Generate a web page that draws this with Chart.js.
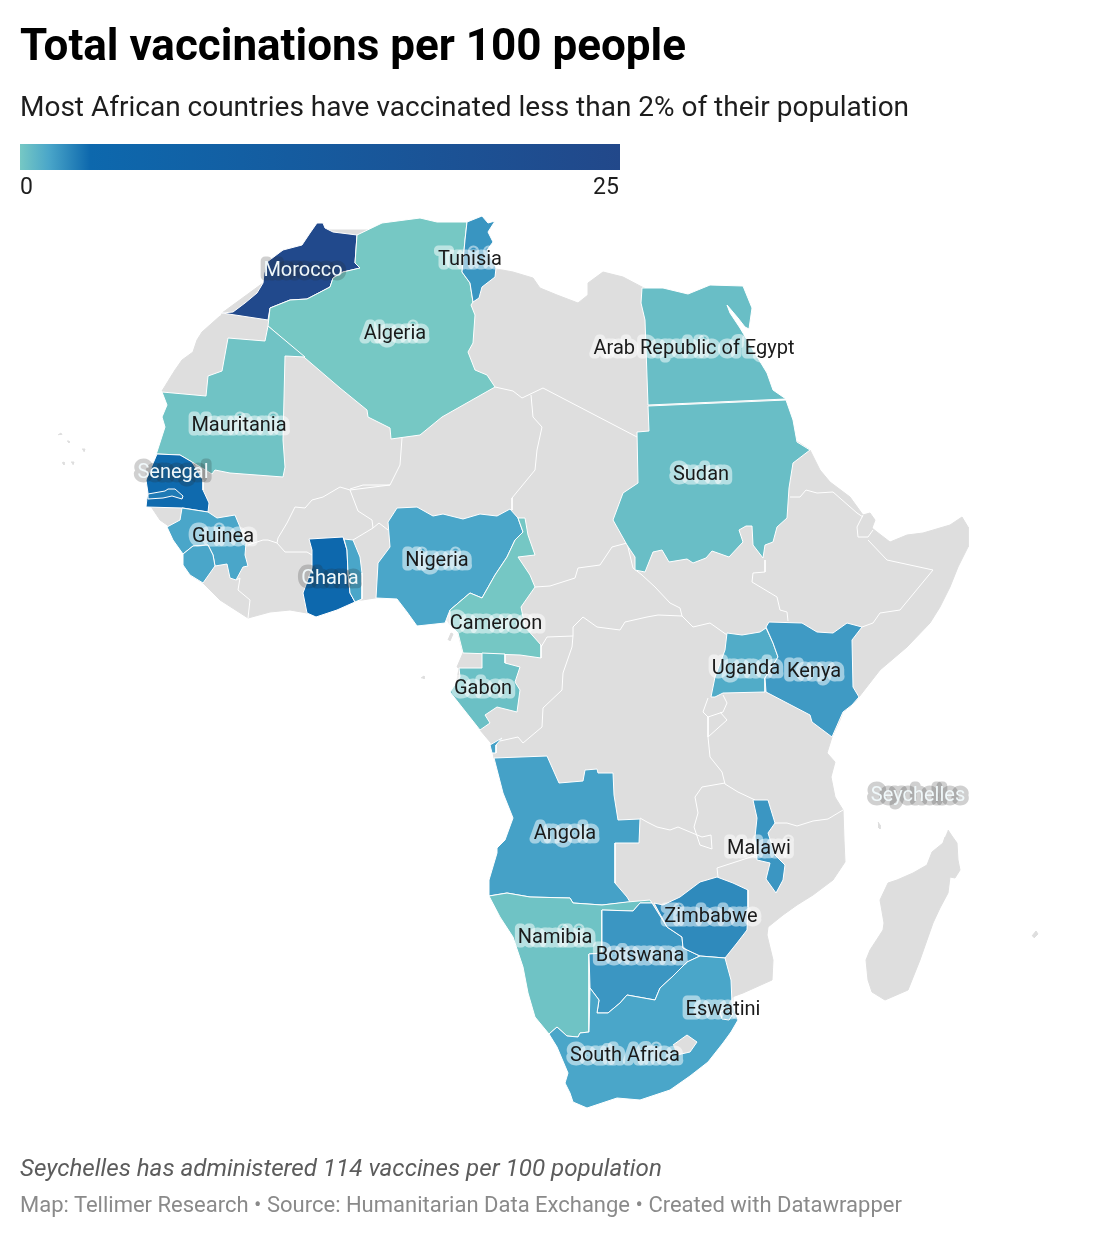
<!DOCTYPE html>
<html>
<head>
<meta charset="utf-8">
<title>Total vaccinations per 100 people</title>
<script src="https://cdn.jsdelivr.net/npm/chart.js@4/dist/chart.umd.min.js"></script>
<style>
  body { margin: 0; background: #fff; font-family: Roboto, sans-serif; }
  #page { position: relative; width: 1096px; height: 1238px; overflow: hidden; }
  #carte { position: absolute; left: 0; top: 0; }
  #page div { position: absolute; white-space: nowrap; }
  #titre { left: 20px; top: 20px; font-size: 44px; line-height: 50px; font-weight: 700; color: #000; }
  #sousTitre { left: 20px; top: 89px; font-size: 28px; line-height: 36px; color: #1d1d1d; }
  #degrade { left: 20px; top: 144px; width: 600px; height: 26px; background: linear-gradient(to right, #76c8c4 0%, #4aa6c9 4.8%, #0d68ad 11.7%, #22488a 100%); }
  #mini, #maxi { top: 173px; font-size: 23px; line-height: 28px; color: #1d1d1d; }
  #mini { left: 20px; }
  #maxi { left: 593px; }
  #note { left: 20px; top: 1153px; font-size: 24.2px; line-height: 30px; font-style: italic; color: #5c5c5c; }
  #source { left: 20px; top: 1190px; font-size: 22px; line-height: 30px; color: #8a8a8a; }
</style>
</head>
<body>
<div id="page">
  <canvas id="carte" width="1096" height="1238"></canvas>
  <div id="titre">Total vaccinations per 100 people</div>
  <div id="sousTitre">Most African countries have vaccinated less than 2% of their population</div>
  <div id="degrade"></div>
  <div id="mini">0</div>
  <div id="maxi">25</div>
  <div id="note">Seychelles has administered 114 vaccines per 100 population</div>
  <div id="source">Map: Tellimer Research • Source: Humanitarian Data Exchange • Created with Datawrapper</div>
</div>
<script>
// Valeurs lues sur la carte (total vaccinations per 100 people, estimees d'apres la couleur)
const pays = ['Morocco', 'Algeria', 'Tunisia', 'Mauritania', 'Arab Republic of Egypt', 'Sudan', 'Senegal', 'Gambia', 'Guinea', 'Sierra Leone', 'Ghana', 'Togo', 'Nigeria', 'Cameroon', 'Gabon', 'Cabinda', 'Uganda', 'Kenya', 'Angola', 'Namibia', 'Botswana', 'Zimbabwe', 'South Africa', 'Eswatini', 'Malawi'];
const valeurs = [24, 0, 1.66, 0.17, 0.36, 0.36, 2.85, 2.4, 1.2, 1.2, 2.9, 1.2, 1.2, 0.02, 0.3, 1.33, 1.0, 1.52, 1.33, 0.19, 1.63, 1.96, 1.2, 1.2, 1.63];

// Contours, en unites de carte
const contours = [
  // Morocco
  [[317,223],[323,223],[325,228],[333,232],[357,235],[355,263],[360,268],[343,272],[333,278],[330,287],[307,299],[290,300],[270,308],[268,320],[222,313],[233,312],[245,303],[257,293],[263,283],[264,273],[267,262],[283,250],[302,245],[310,233]],
  // Algeria
  [[357,235],[382,223],[420,218],[437,222],[467,222],[465,240],[462,272],[470,283],[473,302],[471,305],[475,315],[473,343],[468,352],[475,370],[487,375],[495,387],[442,417],[420,435],[391,439],[390,428],[368,417],[367,410],[340,388],[305,358],[268,326],[270,308],[290,300],[307,299],[330,287],[333,278],[343,272],[360,268],[355,263]],
  // Tunisia
  [[467,222],[482,216],[488,223],[495,221],[488,232],[493,242],[487,250],[496,268],[495,277],[482,287],[479,298],[473,302],[470,283],[462,272],[465,240]],
  // Mauritania
  [[162,392],[206,396],[208,376],[222,371],[228,338],[265,341],[268,326],[305,357],[285,356],[283,440],[285,467],[283,477],[230,473],[215,470],[212,474],[192,462],[180,455],[157,454],[155,458],[165,427],[162,417],[167,405]],
  // Egypt
  [[642,288],[663,288],[688,294],[710,285],[743,286],[752,308],[749,329],[745,327],[738,318],[727,305],[730,313],[740,328],[753,350],[767,373],[773,390],[786,399],[648,405],[645,320],[641,303]],
  // Sudan
  [[648,406],[786,400],[793,420],[797,442],[810,450],[793,463],[789,488],[787,518],[777,527],[773,542],[765,545],[763,558],[753,545],[752,526],[746,526],[739,530],[743,542],[729,557],[712,551],[706,558],[693,563],[687,559],[669,562],[662,550],[653,552],[645,572],[635,570],[635,557],[627,545],[613,520],[623,493],[638,483],[637,432],[649,431]],
  // Senegal
  [[157,454],[180,455],[192,462],[203,480],[203,490],[209,503],[208,512],[183,508],[146,507],[147,498],[148,493],[146,480]],
  // Gambia
  [[148,494],[165,491],[168,489],[175,489],[183,496],[182,499],[172,496],[163,498],[148,499]],
  // Guinea
  [[182,508],[208,512],[217,518],[235,515],[240,527],[246,543],[245,555],[248,566],[243,567],[236,580],[230,578],[227,564],[215,566],[213,555],[208,545],[193,546],[183,554],[173,540],[167,527],[180,520]],
  // Sierra Leone
  [[183,554],[193,546],[208,545],[213,555],[215,566],[203,583],[190,575],[183,565]],
  // Ghana
  [[309,539],[343,537],[347,550],[348,573],[350,593],[355,602],[337,610],[316,617],[307,613],[303,593],[312,568],[312,550]],
  // Togo
  [[344,539],[353,540],[360,557],[362,573],[362,599],[355,602],[350,593],[348,573],[347,550]],
  // Nigeria
  [[397,508],[417,507],[433,516],[443,514],[463,519],[480,514],[497,516],[510,509],[518,518],[523,532],[515,540],[507,557],[495,575],[482,598],[470,593],[450,610],[445,623],[417,626],[407,612],[397,599],[376,598],[378,563],[390,547],[388,522]],
  // Cameroon
  [[450,610],[470,593],[482,598],[495,575],[507,557],[515,540],[523,532],[518,518],[525,518],[528,535],[535,555],[518,557],[530,575],[535,587],[521,607],[525,627],[541,645],[541,658],[520,655],[463,653],[458,633],[450,625]],
  // Gabon
  [[482,653],[505,654],[505,663],[520,667],[515,682],[520,690],[517,712],[497,707],[485,715],[490,723],[480,730],[450,692],[460,677],[459,668],[482,668]],
  // Cabinda
  [[490,745],[502,738],[496,745],[496,753],[492,753]],
  // Uganda
  [[727,633],[742,635],[760,632],[766,628],[773,643],[778,657],[765,678],[765,692],[723,693],[715,697],[711,697],[715,677],[725,650]],
  // Kenya
  [[766,627],[769,622],[802,623],[817,632],[833,633],[847,623],[862,627],[852,640],[853,687],[859,697],[852,705],[843,712],[832,737],[812,722],[810,715],[766,692],[765,678],[778,657],[773,643]],
  // Angola
  [[494,758],[547,756],[559,783],[583,781],[585,770],[597,769],[598,773],[613,773],[614,795],[618,820],[640,819],[639,843],[615,843],[615,883],[627,897],[630,902],[602,905],[573,903],[570,898],[530,897],[507,893],[489,896],[489,880],[497,853],[497,848],[505,840],[513,818],[503,793]],
  // Namibia
  [[489,896],[507,893],[530,897],[570,898],[573,903],[602,905],[627,902],[650,900],[652,903],[640,903],[633,911],[602,910],[602,953],[589,954],[589,1032],[580,1033],[578,1037],[567,1036],[557,1027],[549,1034],[535,1017],[528,993],[523,967],[513,937],[500,917]],
  // Botswana
  [[602,910],[633,911],[640,903],[652,903],[667,927],[682,937],[683,948],[700,956],[687,962],[672,977],[660,988],[655,1000],[627,995],[620,1003],[608,1013],[597,1013],[599,1000],[590,988],[589,954],[602,953]],
  // Zimbabwe
  [[654,903],[663,905],[680,897],[700,882],[717,877],[733,883],[748,890],[748,907],[747,930],[737,943],[725,958],[700,956],[683,948],[682,937],[667,927]],
  // South Africa
  [[590,988],[599,1000],[597,1013],[608,1013],[620,1003],[627,995],[655,1000],[660,988],[672,977],[687,962],[700,956],[725,958],[731,980],[732,1003],[738,1020],[731,1032],[723,1043],[708,1062],[690,1076],[670,1090],[640,1100],[617,1098],[587,1108],[573,1102],[570,1093],[565,1083],[568,1073],[557,1047],[549,1034],[557,1027],[567,1036],[578,1037],[580,1033],[589,1032]],
  // Eswatini
  [[720,1012],[727,1008],[733,1014],[729,1020],[722,1019]],
  // Malawi
  [[753,800],[768,800],[775,823],[768,833],[775,855],[785,865],[783,880],[776,893],[766,879],[770,863],[757,860],[755,837],[757,818]]
];

// Terres sans donnees
const continent = [[222,313],[263,283],[318,230],[465,230],[490,262],[497,269],[513,272],[533,278],[540,288],[557,295],[578,303],[588,295],[588,283],[603,272],[623,277],[642,287],[660,295],[720,320],[745,345],[770,385],[795,440],[810,450],[820,470],[830,482],[850,497],[863,515],[870,513],[875,520],[872,528],[877,532],[890,542],[907,535],[923,533],[950,525],[962,517],[968,527],[968,547],[958,567],[950,587],[940,607],[930,623],[907,647],[880,670],[859,697],[852,705],[843,712],[840,720],[832,737],[827,753],[835,762],[831,777],[835,797],[843,810],[844,840],[845,862],[833,880],[813,895],[797,905],[783,915],[768,927],[767,935],[773,960],[772,980],[743,993],[732,997],[733,1010],[733,1020],[720,1040],[700,1060],[650,1090],[590,1095],[575,1085],[570,1060],[555,1040],[540,1015],[530,990],[525,967],[515,937],[500,917],[492,895],[492,880],[500,853],[507,840],[515,818],[505,793],[494,758],[491,743],[480,730],[455,692],[459,668],[457,667],[463,653],[458,633],[450,625],[447,620],[416,620],[407,612],[397,595],[375,598],[362,600],[355,600],[337,605],[316,612],[307,613],[290,610],[270,612],[248,618],[220,600],[203,583],[190,575],[186,565],[186,554],[176,540],[170,527],[160,520],[152,508],[150,505],[152,480],[160,460],[170,425],[170,400],[162,391],[170,378],[175,370],[182,360],[193,352],[197,340],[202,332],[220,316]];
const madagascar = [[948,830],[952,836],[957,843],[958,860],[960,870],[955,878],[950,877],[948,893],[940,908],[933,923],[920,960],[908,990],[885,1000],[872,992],[868,980],[866,960],[870,950],[883,930],[884,923],[880,900],[888,883],[897,880],[913,873],[927,865],[932,852],[943,843],[945,837]];
const lesotho = [[673,1045],[687,1035],[697,1042],[690,1052],[677,1055]];
const ilots = [
  [[448,640],[451,633],[453,634],[450,641]],
  [[421,678],[424,676],[424,679]],
  [[1032,936],[1036,931],[1038,934],[1034,938]],
  [[878,822],[880,825],[880,829],[878,827]],
  [[58,435],[61,433],[62,435]], [[67,441],[69,441],[69,443]], [[82,449],[85,449],[84,452]], [[62,463],[64,462],[64,465]], [[71,462],[74,462],[73,465]]
];

// Frontieres entre pays sans donnees
const frontieres = [
  [[402,438],[400,465],[390,485],[363,485],[350,489]],
  [[390,485],[350,490],[340,487],[323,497],[312,500],[305,508],[295,507],[287,523],[278,538],[277,543],[268,540],[263,540],[248,545]],
  [[277,543],[285,552],[307,552],[312,555]],
  [[353,540],[363,534],[373,528]],
  [[350,490],[358,511],[372,520],[373,528],[379,523],[388,530]],
  [[236,580],[240,578],[238,590],[250,600],[248,618]],
  [[495,387],[513,391],[522,398],[543,388],[637,437]],
  [[531,395],[533,417],[542,427],[537,450],[535,470],[512,498],[512,510]],
  [[535,587],[550,586],[575,578],[578,568],[600,565],[612,547],[627,543],[633,568],[642,575]],
  [[541,647],[547,637],[573,636],[572,647],[563,673],[562,690],[543,708],[542,727],[523,743],[518,737],[500,741]],
  [[573,636],[573,627],[583,617],[597,627],[620,630],[625,622],[647,617],[658,615],[682,616]],
  [[642,575],[655,587],[670,603],[680,608],[682,616],[693,627],[710,623],[727,635]],
  [[765,560],[765,572],[753,573],[752,582],[777,597],[780,610],[787,612],[788,621]],
  [[868,540],[887,560],[933,570],[900,610],[880,613],[873,623],[862,627]],
  [[790,497],[800,497],[806,490],[817,493],[833,492],[857,513],[863,517]],
  [[863,515],[857,527],[858,537],[868,537],[873,530]],
  [[723,695],[727,703],[723,712],[708,717],[703,712],[708,698]],
  [[708,717],[708,737],[727,720],[720,712]],
  [[708,737],[710,757],[722,772],[725,784],[738,792],[755,800]],
  [[775,823],[787,823],[797,826],[813,821],[828,819],[843,810]],
  [[725,783],[702,787],[695,797],[698,813],[694,827],[700,845],[712,849],[711,835],[702,837],[678,827],[670,830],[657,827],[647,822],[640,818]],
  [[757,855],[717,868],[718,877]],
  [[691,553],[694,553]], [[699,553],[702,553]]
];

// Etiquettes : nom et point d'ancrage sur la carte
const etiquettes = ['Morocco', 'Tunisia', 'Algeria', 'Arab Republic of Egypt', 'Mauritania', 'Sudan', 'Senegal', 'Guinea', 'Nigeria', 'Ghana', 'Cameroon', 'Gabon', 'Uganda', 'Kenya', 'Seychelles', 'Angola', 'Malawi', 'Zimbabwe', 'Namibia', 'Botswana', 'Eswatini', 'South Africa'];
const etiquettesX = [303, 470, 395, 694, 239, 701, 173, 223, 437, 330, 496, 483, 746, 814, 918, 565, 759, 711, 555, 640, 723, 625];
const etiquettesY = [271, 260, 334, 349, 426, 475, 473, 537, 561, 579, 624, 689, 669, 672, 796, 834, 849, 917, 938, 956, 1010, 1056];
const etiquettesClaires = ['Morocco', 'Senegal', 'Ghana', 'Seychelles'];

const GRIS = '#dedede';

// Echelle de couleur 0-25, comme la barre de legende
const echelleValeurs = [0, 1.2, 2.9, 25];
const echelleCouleurs = [[118, 200, 196], [74, 166, 201], [13, 104, 173], [34, 72, 138]];

function couleurPour(v) {
  let k = 0;
  while (k < echelleValeurs.length - 2 && v > echelleValeurs[k + 1]) k++;
  const t = (v - echelleValeurs[k]) / (echelleValeurs[k + 1] - echelleValeurs[k]);
  const c = echelleCouleurs[k].map((x, i) => Math.round(x + (echelleCouleurs[k + 1][i] - x) * t));
  return `rgb(${c[0]},${c[1]},${c[2]})`;
}

function forme(points, couleur, bordure) {
  return {
    data: points,
    showLine: true,
    fill: 'shape',
    backgroundColor: couleur,
    borderColor: bordure,
    borderWidth: 1,
    pointRadius: 0,
    tension: 0
  };
}

const jeux = [];
jeux.push(forme(continent, GRIS, GRIS));
jeux.push(forme(madagascar, GRIS, GRIS));
ilots.forEach(i => jeux.push(forme(i, GRIS, GRIS)));
frontieres.forEach(f => jeux.push({ data: f, showLine: true, fill: false, borderColor: '#fff', borderWidth: 1, pointRadius: 0 }));
contours.forEach((c, i) => jeux.push(forme(c.concat([c[0]]), couleurPour(valeurs[i]), '#fff')));
jeux.push(forme(lesotho, GRIS, '#fff'));
// le premier jeu doit etre dessine en premier
jeux.forEach((j, i) => { j.order = jeux.length - i; });

const pluginEtiquettes = {
  id: 'etiquettes',
  afterDatasetsDraw(chart) {
    const ctx = chart.ctx;
    const x = chart.scales.x;
    const y = chart.scales.y;
    ctx.save();
    ctx.font = '20px Roboto, sans-serif';
    ctx.textAlign = 'center';
    ctx.textBaseline = 'middle';
    ctx.lineJoin = 'round';
    ctx.lineWidth = 9;
    etiquettes.forEach((nom, i) => {
      const px = x.getPixelForValue(etiquettesX[i]);
      const py = y.getPixelForValue(etiquettesY[i]);
      const claire = etiquettesClaires.includes(nom);
      ctx.strokeStyle = claire ? 'rgba(40,40,40,0.22)' : 'rgba(255,255,255,0.5)';
      ctx.strokeText(nom, px, py);
      ctx.fillStyle = claire ? '#f0f8fa' : '#1a1a1a';
      ctx.fillText(nom, px, py);
    });
    ctx.restore();
  }
};

new Chart(document.getElementById('carte').getContext('2d'), {
  type: 'scatter',
  data: { datasets: jeux },
  options: {
    responsive: false,
    animation: false,
    events: [],
    layout: { padding: 0 },
    clip: false,
    plugins: { legend: { display: false }, tooltip: { enabled: false } },
    scales: {
      x: { type: 'linear', min: 0, max: 1096, display: false },
      y: { type: 'linear', min: 0, max: 1238, reverse: true, display: false }
    }
  },
  plugins: [pluginEtiquettes]
});
</script>
</body>
</html>
